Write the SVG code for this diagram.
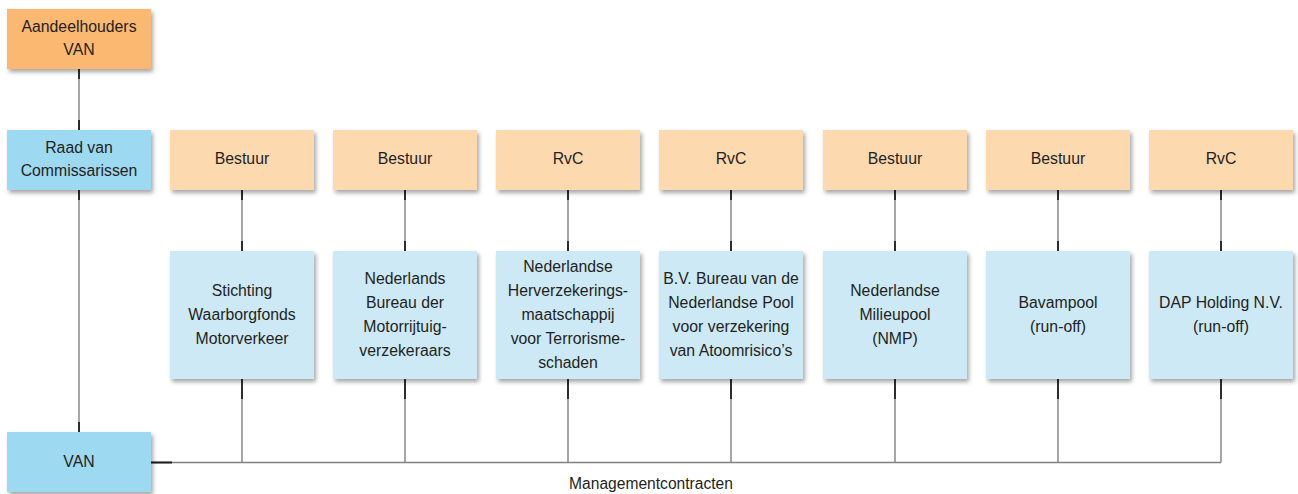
<svg xmlns="http://www.w3.org/2000/svg" width="1298" height="494" viewBox="0 0 1298 494">
<defs>
<filter id="sh" x="-10%" y="-10%" width="125%" height="130%">
<feDropShadow dx="2" dy="3" stdDeviation="2" flood-color="#000" flood-opacity="0.35"/>
</filter>
<style>
text{font-family:"Liberation Sans",Arial,sans-serif;font-size:15.8px;fill:#231F20;text-anchor:middle}
.or{fill:#FBB871;filter:url(#sh)}
.pe{fill:#FDD9B0;filter:url(#sh)}
.bl{fill:#9DD9F1;filter:url(#sh)}
.lb{fill:#CDE9F5;filter:url(#sh)}
.ln{stroke:#808080;stroke-width:1.4;fill:none}
.bk{stroke:#231F20;stroke-width:1.8;fill:none}
.lab{font-size:15.6px}
</style>
</defs>
<g id="connectors">
<path class="ln" d="M79 69V130M79 190V432M151 462.5H1221M242 190V251M405 190V251M568 190V251M731 190V251M895 190V251M1058 190V251M1221 190V251M242 379V462.5M405 379V462.5M568 379V462.5M731 379V462.5M895 379V462.5M1058 379V462.5M1221 379V462.5"/>
<path class="bk" d="M79 69V79M79 120V130M79 190V200M79 422V432M151 462.5H172M242 190V200M242 241V251M405 190V200M405 241V251M568 190V200M568 241V251M731 190V200M731 241V251M895 190V200M895 241V251M1058 190V200M1058 241V251M1221 190V200M1221 241V251M242 379V399M405 379V399M568 379V399M731 379V399M895 379V399M1058 379V399M1221 379V399"/>
<text class="lab" x="651" y="489">Managementcontracten</text>
</g>
<g id="aandeelhouders"><rect class="or" x="7" y="9" width="144" height="60"/><text x="79" y="32">Aandeelhouders</text><text x="79" y="55">VAN</text></g>
<g id="rvc-van"><rect class="bl" x="7" y="130" width="144" height="60"/><text x="79" y="153">Raad van</text><text x="79" y="176">Commissarissen</text></g>
<g id="van"><rect class="bl" x="7" y="432" width="144" height="60"/><text x="79" y="467">VAN</text></g>
<g id="top1"><rect class="pe" x="170" y="130" width="144" height="60"/><text x="242" y="164">Bestuur</text></g>
<g id="top2"><rect class="pe" x="333" y="130" width="144" height="60"/><text x="405" y="164">Bestuur</text></g>
<g id="top3"><rect class="pe" x="496" y="130" width="144" height="60"/><text x="568" y="164">RvC</text></g>
<g id="top4"><rect class="pe" x="659" y="130" width="144" height="60"/><text x="731" y="164">RvC</text></g>
<g id="top5"><rect class="pe" x="823" y="130" width="144" height="60"/><text x="895" y="164">Bestuur</text></g>
<g id="top6"><rect class="pe" x="986" y="130" width="144" height="60"/><text x="1058" y="164">Bestuur</text></g>
<g id="top7"><rect class="pe" x="1149" y="130" width="144" height="60"/><text x="1221" y="164">RvC</text></g>
<g id="swm"><rect class="lb" x="170" y="251" width="144" height="128"/><text x="242" y="296">Stichting</text><text x="242" y="320">Waarborgfonds</text><text x="242" y="344">Motorverkeer</text></g>
<g id="nbm"><rect class="lb" x="333" y="251" width="144" height="128"/><text x="405" y="284">Nederlands</text><text x="405" y="308">Bureau der</text><text x="405" y="332">Motorrijtuig-</text><text x="405" y="356">verzekeraars</text></g>
<g id="nht"><rect class="lb" x="496" y="251" width="144" height="128"/><text x="568" y="272">Nederlandse</text><text x="568" y="296">Herverzekerings-</text><text x="568" y="320">maatschappij</text><text x="568" y="344">voor Terrorisme-</text><text x="568" y="368">schaden</text></g>
<g id="bvb"><rect class="lb" x="659" y="251" width="144" height="128"/><text x="731" y="284">B.V. Bureau van de</text><text x="731" y="308">Nederlandse Pool</text><text x="731" y="332">voor verzekering</text><text x="731" y="356">van Atoomrisico’s</text></g>
<g id="nmp"><rect class="lb" x="823" y="251" width="144" height="128"/><text x="895" y="296">Nederlandse</text><text x="895" y="320">Milieupool</text><text x="895" y="344">(NMP)</text></g>
<g id="bav"><rect class="lb" x="986" y="251" width="144" height="128"/><text x="1058" y="308">Bavampool</text><text x="1058" y="332">(run-off)</text></g>
<g id="dap"><rect class="lb" x="1149" y="251" width="144" height="128"/><text x="1221" y="308">DAP Holding N.V.</text><text x="1221" y="332">(run-off)</text></g>
</svg>
